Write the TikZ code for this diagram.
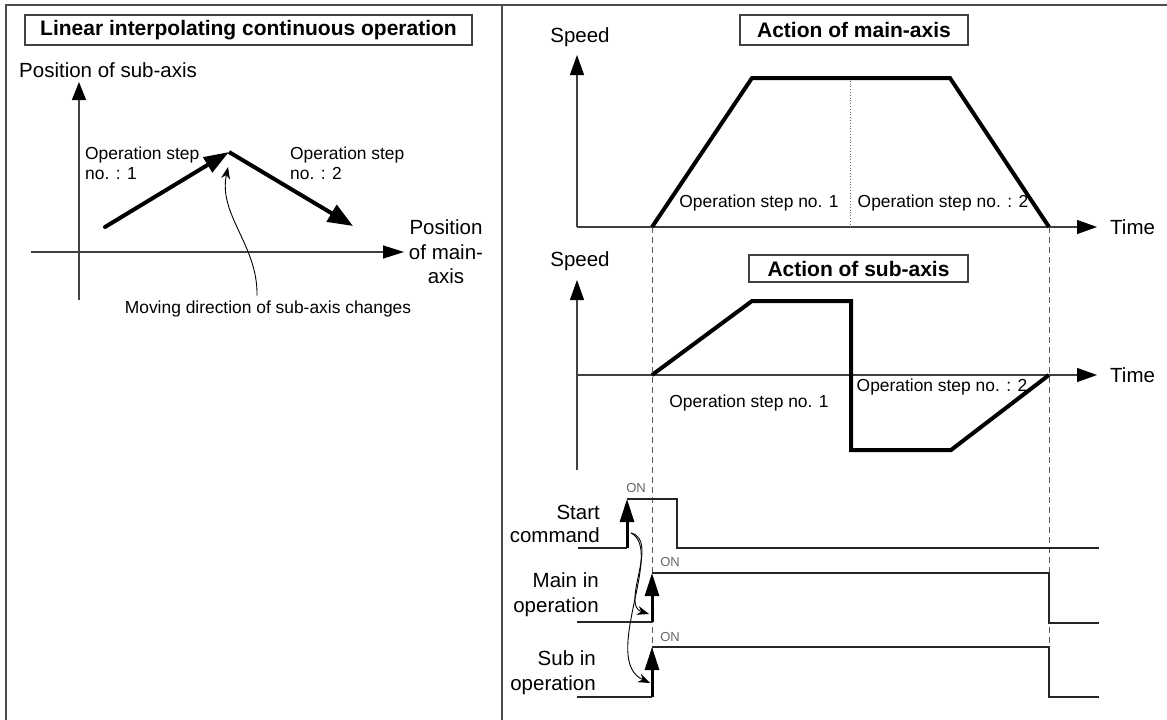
\documentclass[tikz,border=0pt]{standalone}
\usepackage{fontspec}
\setmainfont{Liberation Sans}
\usetikzlibrary{arrows.meta}
\begin{document}
\begin{tikzpicture}[x=1pt,y=-1pt,
  frame/.style={draw=black!70, line width=1.6pt},
  axisline/.style={draw=black!75, line width=1.3pt, -{Triangle[length=20pt,width=14pt,color=black]}},
  boldpath/.style={line width=4pt, line join=miter},
  titlebox/.style={draw=black!75, line width=1.2pt, font=\bfseries\fontsize{21}{22}\selectfont, inner sep=0pt},
  big/.style={font=\fontsize{20.5}{23}\selectfont, inner sep=0pt},
  small/.style={font=\fontsize{17.4}{19.5}\selectfont, inner sep=0pt},
  onlbl/.style={font=\fontsize{13}{14}\selectfont, text=black!60, inner sep=0pt},
  guide/.style={draw=black!65, line width=1pt, dash pattern=on 6pt off 4pt},
  signal/.style={draw=black!85, line width=1.2pt},
  edgearrow/.style={line width=3pt, -{Triangle[length=23pt,width=14pt]}},
  note/.style={draw=black, line width=0.9pt, -{Stealth[length=12pt,width=9pt]}}
]
\useasboundingbox (0,0) rectangle (1167,720);
\fill[white] (0,0) rectangle (1167,720);

% frame
\draw[frame] (6,720) -- (6,5) -- (1167,5);
\draw[frame] (502,5) -- (502,720);

% ---------------- left panel ----------------
\node[titlebox, minimum width=447pt, minimum height=30pt] (ltitle) at (248.5,30) {Linear interpolating continuous operation};
\node[big, anchor=west] (lyl) at (19,70) {Position of sub-axis};
\coordinate (lyb) at (79,300);
\coordinate (lyt) at (79,82);
\coordinate (lxl) at (31,252);
\coordinate (lxr) at (404,252);
\draw[draw=black!75, line width=1.3pt, -{Triangle[length=18pt,width=14pt,color=black]}] (lyb) -- (lyt);
\draw[draw=black!75, line width=1.3pt, -{Triangle[length=21pt,width=13pt,color=black]}] (lxl) -- (lxr);
\node[big, align=center, font=\fontsize{20.5}{24.5}\selectfont] (lxlab) at (446,252) {Position\\of main-\\axis};

\coordinate (s0) at (105,227);
\coordinate (pk) at (229,152);
\coordinate (s2) at (353,226);
\draw[boldpath, line cap=round, -{Triangle[length=25pt,width=17pt]}] (s0) -- (pk);
\draw[boldpath, -{Triangle[length=25pt,width=19pt]}] (pk) -- (s2);

\node[small, align=left, anchor=west] (op1) at (85,163.5) {Operation step\\no. : 1};
\node[small, align=left, anchor=west] (op2) at (290,163.5) {Operation step\\no. : 2};

\node[small] (mv) at (268,309) {Moving direction of sub-axis changes};
\coordinate (mvtip) at (228,167);
\draw[note] ([xshift=-11pt,yshift=5pt]mv.north) .. controls (258,245) and (218,215) .. (mvtip);

% ---------------- main axis ----------------
\node[titlebox, minimum width=228pt, minimum height=30pt] (mtitle) at (854,30) {Action of main-axis};
\node[big] (mspeed) at (580,37) {Speed};
\coordinate (mO) at (577,227);
\coordinate (mYt) at (577,55);
\coordinate (mXr) at (1097,227);
\draw[axisline] (mO) -- (mYt);
\draw[axisline] (mO) -- (mXr);
\node[big, anchor=west] (mtime) at (1110,227) {Time};

\coordinate (ma) at (652,227);
\coordinate (mb) at (752,78);
\coordinate (mc) at (950,78);
\coordinate (md) at (1049,227);
\coordinate (mm) at (850,78);
\coordinate (mm2) at (850,227);
\draw[black!60, line width=0.8pt, dotted] (mm) -- (mm2);
\draw[boldpath] (ma) -- (mb) -- (mc) -- (md);
\node[small] (mop1) at (759,203) {Operation step no. 1};
\node[small] (mop2) at (943,203) {Operation step no. : 2};

% ---------------- sub axis ----------------
\node[titlebox, minimum width=219pt, minimum height=27pt] (stitle) at (858.5,268.5) {Action of sub-axis};
\node[big] (sspeed) at (580,261) {Speed};
\coordinate (sYb) at (577,470);
\coordinate (sYt) at (577,280);
\coordinate (sO) at (577,375);
\coordinate (sXr) at (1097,375);
\draw[axisline] (sYb) -- (sYt);
\draw[axisline] (sO) -- (sXr);
\node[big, anchor=west] (stime) at (1110,375) {Time};

\coordinate (sa) at (652,375);
\coordinate (sb) at (752,301);
\coordinate (sc) at (851,301);
\coordinate (sd) at (851,450);
\coordinate (se) at (951,450);
\coordinate (sf) at (1049,375);
\draw[boldpath] (sa) -- (sb) -- (sc) -- (sd) -- (se) -- (sf);
\node[small] (sop1) at (749,403) {Operation step no. 1};
\node[small] (sop2) at (942,387) {Operation step no. : 2};

% guides
\coordinate (g1b) at (652,697);
\coordinate (g2b) at (1049,647);
\draw[guide] (ma) -- (g1b);
\draw[guide] (md) -- (g2b);

% ---------------- signals ----------------
\node[big, align=right, anchor=east, font=\fontsize{20.5}{23}\selectfont] (lstart) at (600,523.5) {Start\\command};
\node[big, align=right, anchor=east, font=\fontsize{20.5}{25}\selectfont] (lmain) at (599,594.5) {Main in\\operation};
\node[big, align=right, anchor=east, font=\fontsize{20.5}{25}\selectfont] (lsub) at (596,672.5) {Sub in\\operation};

% start command
\coordinate (st0) at (578,548);
\coordinate (st1) at (627,548);
\coordinate (st2) at (627,499);
\coordinate (st3) at (677,499);
\coordinate (st4) at (677,548);
\coordinate (st5) at (1099,548);
\draw[signal] (st0) -- (st1);
\draw[edgearrow] (st1) -- (st2);
\draw[signal] (st2) -- (st3) -- (st4) -- (st5);
\node[onlbl] (on1) at (636,488) {ON};

% main in operation
\coordinate (mi0) at (577,622);
\coordinate (mi1) at (652,622);
\coordinate (mi2) at (652,573);
\coordinate (mi3) at (1049,573);
\coordinate (mi4) at (1049,623);
\coordinate (mi5) at (1099,623);
\draw[signal] (mi0) -- (mi1);
\draw[edgearrow] (mi1) -- (mi2);
\draw[signal] (mi2) -- (mi3) -- (mi4) -- (mi5);
\node[onlbl] (on2) at (670,562) {ON};

% sub in operation
\coordinate (si0) at (577,697);
\coordinate (si1) at (652,697);
\coordinate (si2) at (652,647);
\coordinate (si3) at (1049,647);
\coordinate (si4) at (1049,697);
\coordinate (si5) at (1099,697);
\draw[signal] (si0) -- (si1);
\draw[edgearrow] (si1) -- (si2);
\draw[signal] (si2) -- (si3) -- (si4) -- (si5);
\node[onlbl] (on3) at (670,637) {ON};

% causal curves
\coordinate (cs) at (631,533);
\coordinate (ct1) at (649,614);
\coordinate (ct2) at (650,683);
\draw[note] (cs) .. controls (660,540) and (620,605) .. (ct1);
\draw[note] (cs) .. controls (665,550) and (600,660) .. (ct2);

\end{tikzpicture}
\end{document}
